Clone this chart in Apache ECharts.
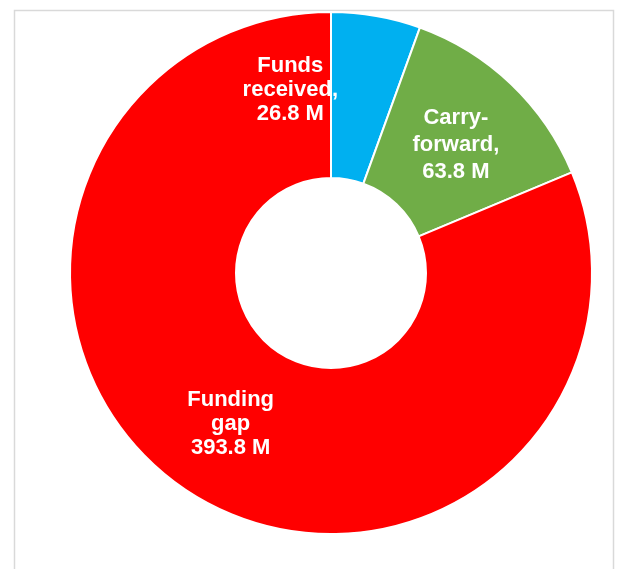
<!DOCTYPE html>
<html>
<head>
<meta charset="utf-8">
<script src="https://cdn.jsdelivr.net/npm/echarts@6/dist/echarts.min.js"></script>
<style>
html,body{margin:0;padding:0;background:#fff;}
#main{width:617px;height:569px;}
</style>
</head>
<body>
<div id="main"></div>
<script>
const categories = ["Funds received", "Carry-forward", "Funding gap"];
const values = [26.8, 63.8, 393.8];
const labelLines = [
  ["Funds", "received,", "26.8 M"],
  ["Carry-", "forward,", "63.8 M"],
  ["Funding", "gap", "393.8 M"]
];
const colors = ["#00B0F0", "#70AD47", "#FF0000"];

const chart = echarts.init(document.getElementById('main'), null, {renderer: 'canvas'});
chart.setOption({
  animation: false,
  backgroundColor: '#ffffff',
  graphic: [{
    type: 'rect',
    shape: {x: 14.5, y: 10.5, width: 599, height: 580},
    style: {fill: 'none', stroke: '#d9d9d9', lineWidth: 1.5},
    silent: true
  }],
  series: [{
    type: 'pie',
    center: [331, 273],
    radius: [95, 261],
    startAngle: 90,
    clockwise: true,
    avoidLabelOverlap: false,
    itemStyle: {borderColor: '#ffffff', borderWidth: 2},
    label: {
      show: true,
      position: 'inside',
      color: '#ffffff',
      fontFamily: 'Liberation Sans, Arial, sans-serif',
      fontWeight: 'bold',
      fontSize: 22,
      lineHeight: 24,
      align: 'center',
      formatter: p => labelLines[p.dataIndex].join('\n')
    },
    labelLine: {show: false},
    labelLayout: function (params) {
      if (params.dataIndex === 0) {
        return {dx: -72, dy: -5};
      }
      if (params.dataIndex === 1) {
        return {dx: 0, dy: 3};
      }
      return {};
    },
    data: categories.map((c, i) => ({
      name: c,
      value: values[i],
      itemStyle: {color: colors[i]},
      label: i === 1 ? {lineHeight: 27} : {}
    }))
  }]
});
</script>
</body>
</html>
